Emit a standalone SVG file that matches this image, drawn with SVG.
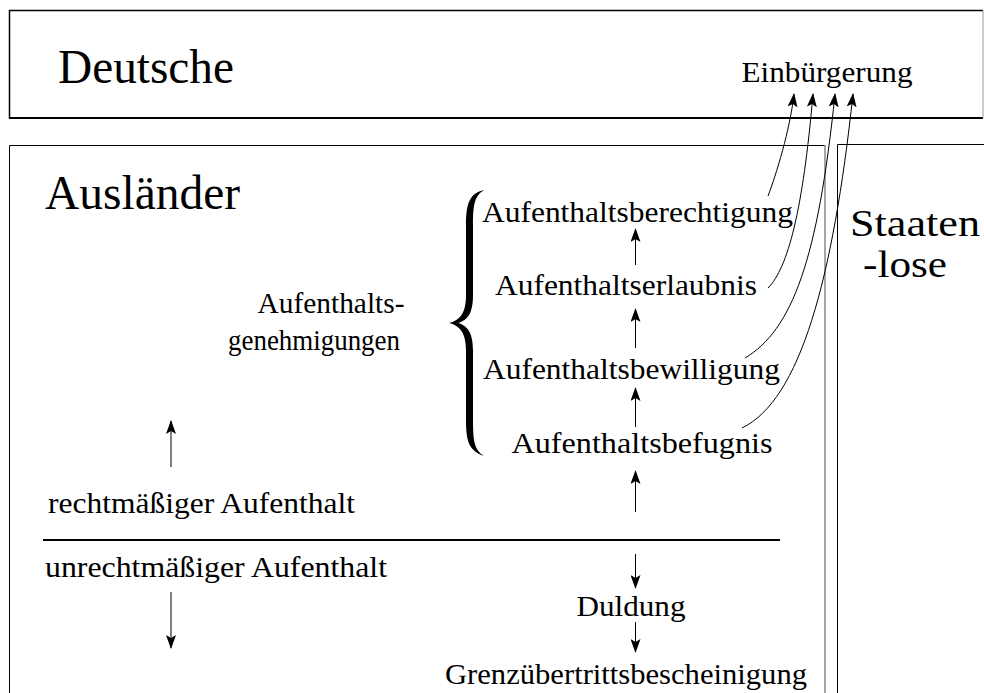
<svg xmlns="http://www.w3.org/2000/svg" width="984" height="693" viewBox="0 0 984 693" font-family="'Liberation Serif', Tinos, 'Times New Roman', 'Noto Serif', 'DejaVu Serif', FreeSerif, 'Nimbus Roman', serif">
<style>
  text { font-family: 'Liberation Serif', Tinos, 'Times New Roman', 'Noto Serif', 'DejaVu Serif', FreeSerif, 'Nimbus Roman', serif; fill: #000; }
  .big { font-size: 48px; }
  .st { font-size: 37px; }
  .mid { font-size: 30px; }
  .c { text-anchor: middle; }
  .arr { stroke: #000; stroke-width: 1; fill: none; marker-end: url(#ah); }
</style>
<defs>
  <marker id="ah" viewBox="0 0 14 10" refX="13" refY="5" markerWidth="14" markerHeight="10" markerUnits="userSpaceOnUse" orient="auto">
    <path d="M0,0 L14,5 L0,10 L3,5 Z" fill="#000"/>
  </marker>
</defs>
<rect width="984" height="693" fill="#fff"/>

<g id="deutsche">
  <path d="M983,10.5 L9.5,10.5 L9.5,118 L983,118" fill="none" stroke="#000" stroke-width="1.5"/>
  <line x1="9" y1="118" x2="983" y2="118" stroke="#000" stroke-width="2.2"/>
  <line x1="983" y1="10" x2="983" y2="118" stroke="#999" stroke-width="1"/>
  <text class="big" x="58" y="83" textLength="176" lengthAdjust="spacingAndGlyphs">Deutsche</text>
  <text class="mid c" x="827" y="82" textLength="171" lengthAdjust="spacingAndGlyphs">Einbürgerung</text>
</g>

<g id="auslaender">
  <path d="M9.5,693 L9.5,145.5 L825,145.5" fill="none" stroke="#000" stroke-width="1"/>
  <line x1="825" y1="145" x2="825" y2="693" stroke="#888" stroke-width="1.5"/>
  <text class="big" x="45" y="209" textLength="195" lengthAdjust="spacingAndGlyphs">Ausländer</text>
</g>

<g id="staatenlose">
  <path d="M837.5,693 L837.5,144.5 L984,144.5" fill="none" stroke="#000" stroke-width="1"/>
  <text class="st" x="850" y="236" textLength="130" lengthAdjust="spacingAndGlyphs">Staaten</text>
  <text class="st" x="863" y="277" textLength="84" lengthAdjust="spacingAndGlyphs">-lose</text>
</g>

<g id="genehmigungen">
  <text class="mid c" x="331" y="313" textLength="147" lengthAdjust="spacingAndGlyphs">Aufenthalts-</text>
  <text class="mid c" x="314" y="350" textLength="172" lengthAdjust="spacingAndGlyphs">genehmigungen</text>
  <path d="M484,190 C470,193 466,203 466,225 L466,295 C466,312 461,320 449,323 C461,326 466,334 466,351 L466,421 C466,443 470,451 484,456 C475,450 473,443 473,421 L473,351 C473,333 468,326 458,323 C468,320 473,313 473,295 L473,225 C473,203 475,196 484,190 Z" fill="#000"/>
</g>

<g id="berechtigung"><text class="mid c" x="637.5" y="222" textLength="311" lengthAdjust="spacingAndGlyphs">Aufenthaltsberechtigung</text></g>
<g id="erlaubnis"><text class="mid c" x="626" y="295" textLength="262" lengthAdjust="spacingAndGlyphs">Aufenthaltserlaubnis</text></g>
<g id="bewilligung"><text class="mid c" x="631.5" y="379" textLength="297" lengthAdjust="spacingAndGlyphs">Aufenthaltsbewilligung</text></g>
<g id="befugnis"><text class="mid c" x="642" y="453" textLength="261" lengthAdjust="spacingAndGlyphs">Aufenthaltsbefugnis</text></g>

<g id="rechtmaessig">
  <text class="mid" x="48" y="513" textLength="307" lengthAdjust="spacingAndGlyphs">rechtmäßiger Aufenthalt</text>
</g>
<g id="unrechtmaessig">
  <text class="mid" x="45" y="577" textLength="342" lengthAdjust="spacingAndGlyphs">unrechtmäßiger Aufenthalt</text>
</g>
<g id="duldung"><text class="mid c" x="631" y="616" textLength="109" lengthAdjust="spacingAndGlyphs">Duldung</text></g>
<g id="grenz"><text class="mid c" x="626" y="684" textLength="362" lengthAdjust="spacingAndGlyphs">Grenzübertrittsbescheinigung</text></g>

<g id="divider">
  <line x1="43" y1="540" x2="780" y2="540" stroke="#000" stroke-width="2"/>
</g>

<g id="connectors">
  <line class="arr" x1="635.5" y1="265" x2="635.5" y2="229"/>
  <line class="arr" x1="635.5" y1="348" x2="635.5" y2="309"/>
  <line class="arr" x1="635.5" y1="427" x2="635.5" y2="388"/>
  <line class="arr" x1="635.5" y1="512" x2="635.5" y2="471"/>
  <line class="arr" x1="635.5" y1="554" x2="635.5" y2="588"/>
  <line class="arr" x1="635.5" y1="622" x2="635.5" y2="652"/>
  <line class="arr" x1="171" y1="467" x2="171" y2="421"/>
  <line class="arr" x1="171" y1="592" x2="171" y2="648"/>
  <path class="arr" d="M768,196 C776,175 790,130 794,94"/>
  <path class="arr" d="M768,288 C788,268 803,210 813,94"/>
  <path class="arr" d="M745,358 C792,330 818,260 835,94"/>
  <path class="arr" d="M742,428 C800,400 833,280 853,94"/>
</g>
</svg>
